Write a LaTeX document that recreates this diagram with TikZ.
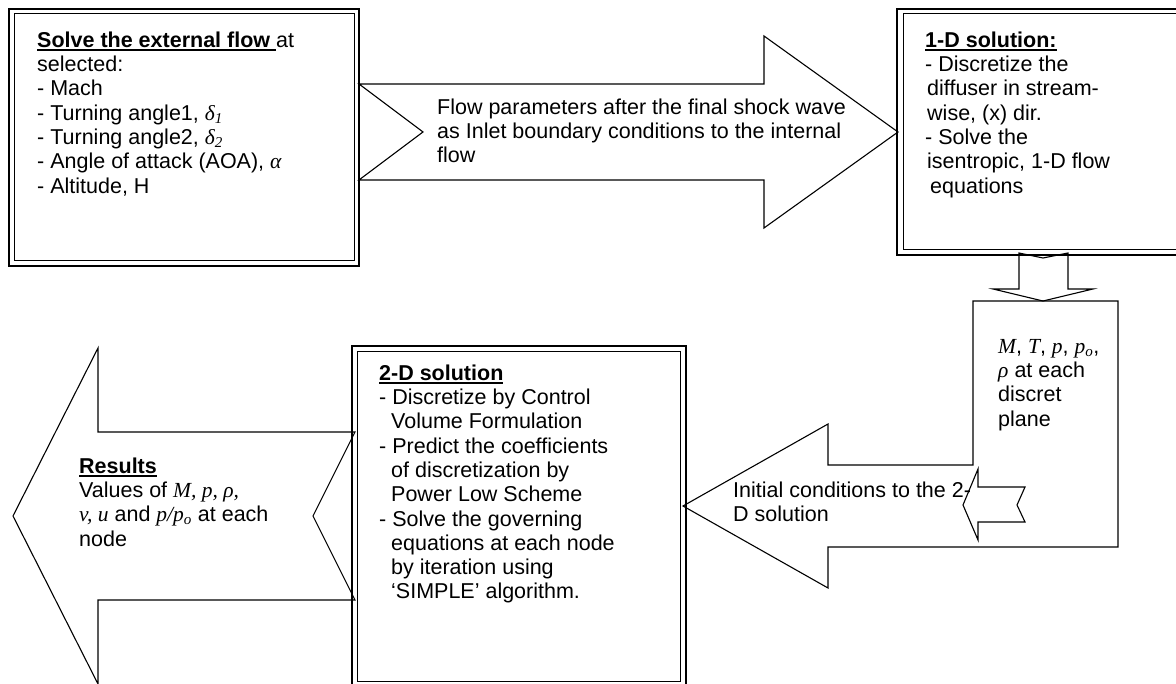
\documentclass[tikz,border=0pt]{standalone}
\usepackage{fontspec}
\setmainfont{Liberation Sans}
\newfontfamily\tnr{Liberation Serif}
\newcommand\vr[1]{{\tnr\itshape #1}}
\newcommand\hd[1]{\setbox0\hbox{\textbf{#1}}\rlap{\rule[-4pt]{\wd0}{1.8pt}}\box0}

\tikzset{
  outerline/.style={line width=2pt},
  innerline/.style={line width=1pt},
  blockarrow/.style={line width=1.1pt,line join=miter},
  txt/.style={anchor=north west,inner sep=0pt,align=left,
    font=\fontsize{21.5}{24.3}\selectfont}
}

\begin{document}
\begin{tikzpicture}[x=1pt,y=-1pt]
\useasboundingbox (0,0) rectangle (1176,684);
\clip (0,0) rectangle (1176,684);
\fill[white] (0,0) rectangle (1176,684);
\draw[outerline] (9,9) rectangle (359,266);
\draw[innerline] (14,14) rectangle (354,261);
\draw[outerline] (897,9) rectangle (1190,255);
\draw[innerline] (903,14) rectangle (1185,250);
\draw[outerline] (352,346) rectangle (686,690);
\draw[innerline] (357,352) rectangle (680,681);
\draw[blockarrow] (359,84) -- (764,84) -- (764,36) -- (898,132) -- (764,228) -- (764,180) -- (359,180) -- (423,132) -- cycle;
\draw[blockarrow] (1019,253) -- (1043,258) -- (1068,253) -- (1068,289) -- (1093,289) -- (1043,301) -- (993,289) -- (1019,289) -- cycle;
\draw[blockarrow] (973,301) -- (1118,301) -- (1118,547) -- (828,547) -- (828,588) -- (683,506) -- (828,424) -- (828,465) -- (973,465) -- cycle;
\draw[blockarrow] (963,505) -- (978,469) -- (978,487) -- (1025,487) -- (1017,505) -- (1025,522) -- (978,522) -- (978,540) -- cycle;
\draw[blockarrow] (13,516) -- (98,348) -- (98,432) -- (355,432) -- (313,516) -- (355,600) -- (98,600) -- (98,684) -- cycle;
\node[txt] (extflow) at (37,30) {\strut\hd{Solve the external flow\ }at\\selected:\\- Mach\\- Turning angle1, \vr{δ\textsubscript{1}}\\- Turning angle2, \vr{δ\textsubscript{2}}\\- Angle of attack (AOA), \vr{α}\\- Altitude, H};
\node[txt] (shocktext) at (437,97) {\strut Flow parameters after the final shock wave\\as Inlet boundary conditions to the internal\\flow};
\node[txt] (onedsol) at (925,30) {\strut\hd{1-D solution:}\\- Discretize the\\\hspace*{2pt}diffuser in stream-\\\hspace*{2pt}wise, (x) dir.\\- Solve the\\\hspace*{2pt}isentropic, 1-D flow\\\hspace*{5pt}equations};
\node[txt] (planevals) at (998,336) {\strut\vr{M}, \vr{T}, \vr{p}, \vr{p\textsubscript{o}},\\\vr{ρ} at each\\discret\\plane};
\node[txt] (initcond) at (733,480) {\strut Initial conditions to the 2-\\D solution};
\node[txt] (twodsol) at (379,363) {\strut\hd{2-D solution}\\- Discretize by Control\\\hspace*{12pt}Volume Formulation\\- Predict the coefficients\\\hspace*{12pt}of discretization by\\\hspace*{12pt}Power Low Scheme\\- Solve the governing\\\hspace*{12pt}equations at each node\\\hspace*{12pt}by iteration using\\\hspace*{12pt}‘SIMPLE’ algorithm.};
\node[txt] (results) at (79,456) {\strut\hd{Results}\\Values of \vr{M, p, ρ,}\\\vr{v, u} and \vr{p/p\textsubscript{o}} at each\\node};
\end{tikzpicture}
\end{document}
